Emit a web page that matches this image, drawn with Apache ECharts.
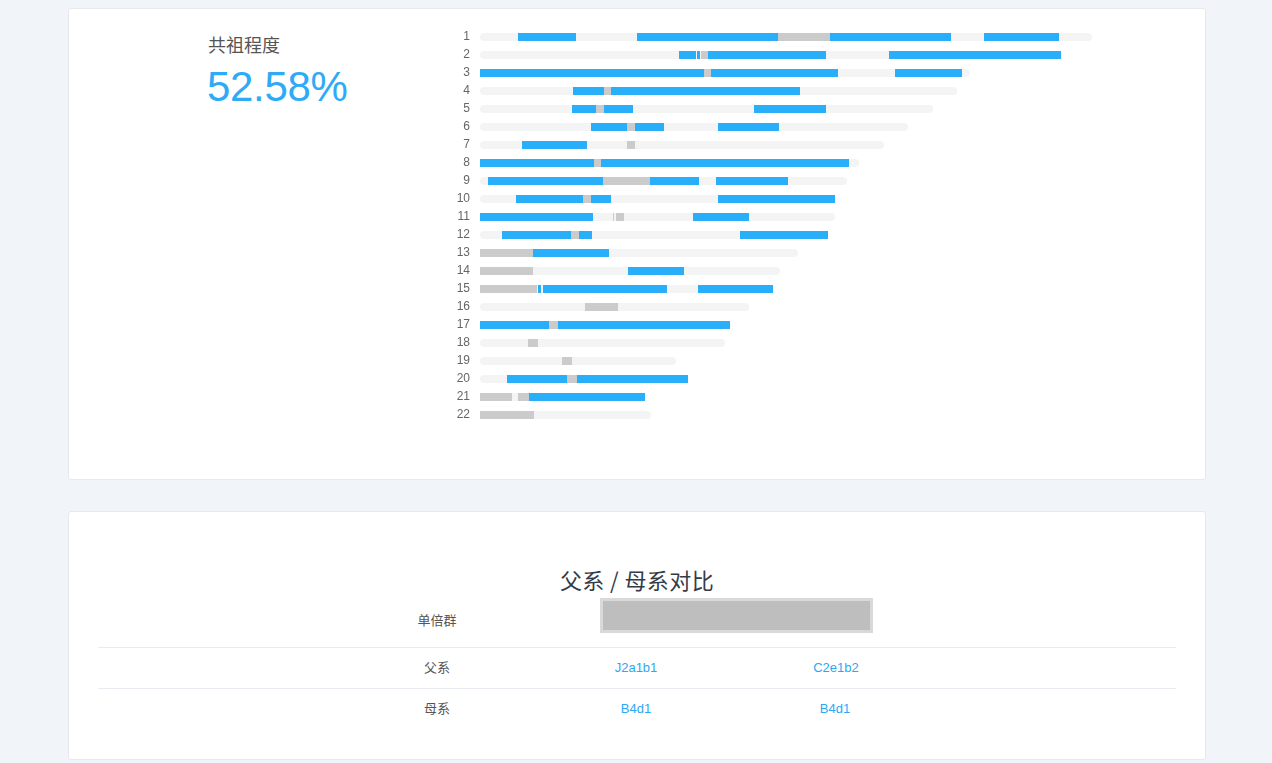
<!DOCTYPE html>
<html>
<head>
<meta charset="utf-8">
<script src="https://cdn.jsdelivr.net/npm/echarts@6/dist/echarts.min.js"></script>
<style>
  html,body{margin:0;padding:0;width:1272px;height:763px;overflow:hidden;background:#f1f4f8;
    font-family:"Liberation Sans","Noto Sans CJK SC",sans-serif;}
  .card{position:absolute;left:68px;width:1138px;background:#fff;border:1px solid #e5e9ee;border-radius:3px;box-sizing:border-box;}
  .abs{position:absolute;white-space:nowrap;}
  .cjk{font-family:"Noto Sans CJK SC","Liberation Sans",sans-serif;}
  .hline{position:absolute;left:98px;width:1078px;height:1px;background:#e8ecf0;}
  .ctr{transform:translateX(-50%);text-align:center;}
  .link{color:#2ba8f4;font-size:13px;}
  #chart{position:absolute;left:0;top:0;width:1272px;height:440px;}
</style>
</head>
<body>
<div class="card" style="top:8px;height:472px;"></div>
<div class="card" style="top:511px;height:249px;"></div>

<div class="abs cjk" style="left:208px;top:31px;font-size:18px;color:#555;">共祖程度</div>
<div class="abs" style="left:207px;top:63px;font-size:42px;color:#2eaaf7;letter-spacing:-0.3px;">52.58%</div>

<div id="chart"></div>

<div class="abs cjk ctr" style="left:637px;top:563px;font-size:22px;color:#333b47;letter-spacing:0.4px;">父系 / 母系对比</div>
<div class="abs cjk ctr" style="left:437px;top:610px;font-size:13px;color:#555;">单倍群</div>
<div class="abs" style="left:600px;top:598px;width:273px;height:35px;box-sizing:border-box;border:3px solid #d9d9d9;background:#bebebe;"></div>
<div class="hline" style="top:647px;"></div>
<div class="abs cjk ctr" style="left:437px;top:657px;font-size:13px;color:#555;">父系</div>
<div class="abs link ctr" style="left:636px;top:660px;">J2a1b1</div>
<div class="abs link ctr" style="left:836px;top:660px;">C2e1b2</div>
<div class="hline" style="top:688px;"></div>
<div class="abs cjk ctr" style="left:437px;top:698px;font-size:13px;color:#555;">母系</div>
<div class="abs link ctr" style="left:636px;top:701px;">B4d1</div>
<div class="abs link ctr" style="left:835px;top:701px;">B4d1</div>

<script>
// Chromosome labels
var chromosomes = ['1','2','3','4','5','6','7','8','9','10','11','12','13','14','15','16','17','18','19','20','21','22'];
// Chromosome lengths (relative position units)
var chromLengths = [612,581,490,477,453,428,404,379,367,355,355,348,318,300,293,269,250,245,196,208,165,171];
// Shared segments (blue): [chromosome index, start, end]
var sharedSegments = [
  [0,38,96],[0,157,298],[0,350,471],[0,504,579],
  [1,199,216],[1,217,220],[1,228,346],[1,409,581],
  [2,0,224],[2,231,358],[2,415,482],
  [3,93,124],[3,131,320],
  [4,92,116],[4,124,153],[4,274,346],
  [5,111,147],[5,155,184],[5,238,299],
  [6,42,107],
  [7,0,114],[7,121,369],
  [8,8,123],[8,170,219],[8,236,308],
  [9,36,103],[9,111,131],[9,238,355],
  [10,0,113],[10,213,269],
  [11,22,91],[11,99,112],[11,260,348],
  [12,53,129],
  [13,148,204],
  [14,58,61],[14,63,187],[14,218,293],
  [16,0,69],[16,78,250],
  [19,27,87],[19,97,208],
  [20,49,165]
];
// Gray segments: [chromosome index, start, end]
var graySegments = [
  [0,298,350],[1,221,228],[2,224,231],[3,124,131],[4,116,124],[5,147,155],
  [6,147,155],[7,114,121],[8,123,170],[9,103,111],[10,133,134],[10,136,144],
  [11,91,99],[12,0,53],[13,0,53],[14,0,57],[15,105,138],[16,69,78],
  [17,48,58],[18,82,92],[19,87,97],[20,0,32],[20,38,49],[21,0,54]
];

var bgData = chromLengths.map(function(len, i){ return [i, 0, len]; });

function makeRender(color, radius){
  return function(params, api){
    var ci = api.value(0);
    var s = api.coord([api.value(1), ci]);
    var e = api.coord([api.value(2), ci]);
    var band = api.size([0, 1])[1];
    var h = Math.round(band * 0.445);
    return {
      type: 'rect',
      shape: {x: s[0], y: Math.round(s[1] - h / 2), width: e[0] - s[0], height: h, r: radius},
      style: {fill: color}
    };
  };
}

var chart = echarts.init(document.getElementById('chart'), null, {renderer: 'canvas'});
chart.setOption({
  animation: false,
  backgroundColor: 'transparent',
  grid: {left: 480, top: 28, width: 640, height: 396, containLabel: false},
  xAxis: {type: 'value', min: 0, max: 640, show: false},
  yAxis: {
    type: 'category', data: chromosomes, inverse: true,
    axisLine: {show: false}, axisTick: {show: false}, splitLine: {show: false},
    axisLabel: {color: '#666', fontSize: 12, margin: 10, padding: [2, 0, 0, 0], fontFamily: 'Liberation Sans'}
  },
  series: [
    {type: 'custom', renderItem: makeRender('#f4f4f4', 4), data: bgData, encode: {x: [1, 2], y: 0}, silent: true},
    {type: 'custom', renderItem: makeRender('#29aefa', 0), data: sharedSegments, encode: {x: [1, 2], y: 0}, silent: true},
    {type: 'custom', renderItem: makeRender('#cbcbcb', 0), data: graySegments, encode: {x: [1, 2], y: 0}, silent: true}
  ]
});
</script>
</body>
</html>
